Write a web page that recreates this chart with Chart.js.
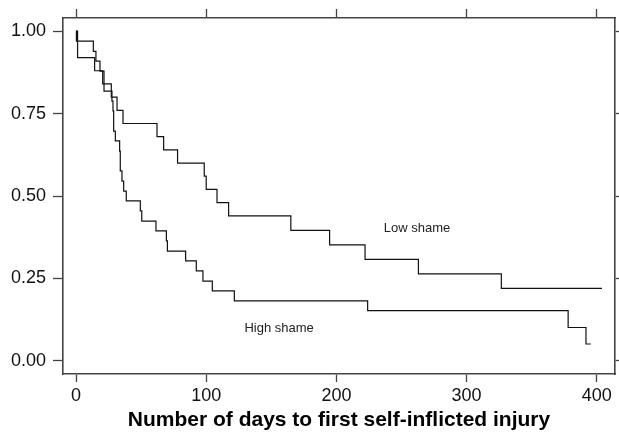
<!DOCTYPE html>
<html>
<head>
<meta charset="utf-8">
<script src="https://cdn.jsdelivr.net/npm/chart.js@4.4.1/dist/chart.umd.min.js"></script>
<style>
  html, body { margin:0; padding:0; background:#fff; }
  #wrap { width:619px; height:437px; }
</style>
</head>
<body>
<div id="wrap"><canvas id="km" width="619" height="437"></canvas></div>
<script>
// Kaplan-Meier steps (day of event, survival after it)
const lowDays  = [0, 1.2, 14.3, 20.5, 27.1, 31.5, 36.1, 62.2, 67.3, 78, 98.5, 100, 108.3, 117.2, 165, 194.8, 222, 263, 326.7, 404];
const lowSurv  = [1, 0.92, 0.88, 0.84, 0.80, 0.76, 0.72, 0.68, 0.64, 0.60, 0.56, 0.52, 0.48, 0.44, 0.396, 0.352, 0.308, 0.264, 0.22, 0.22];
const highDays = [0, 0.3, 13.3, 15.3, 18.4, 21.5, 27.6, 28.4, 28.9, 30.2, 33.5, 34, 35.3, 36.6, 38.6, 49.4, 50.5, 61.4, 69.4, 70.2, 84.2, 92.4, 97.5, 104.7, 121.6, 224, 378, 391.7, 395.5];
const highSurv = [1, 0.970, 0.939, 0.909, 0.879, 0.818, 0.788, 0.758, 0.697, 0.667, 0.636, 0.576, 0.545, 0.515, 0.485, 0.455, 0.424, 0.394, 0.364, 0.333, 0.303, 0.273, 0.242, 0.212, 0.182, 0.152, 0.101, 0.051, 0.051];

const xTicks = [0, 100, 200, 300, 400];
const yTicks = [0, 0.25, 0.5, 0.75, 1];
const groupLabels = [
  { text: "Low shame",  day: 262, surv: 0.402 },
  { text: "High shame", day: 156, surv: 0.098 },
];
const xTitle = "Number of days to first self-inflicted injury";

const ink = "#111";
const frame = "#444";
const FONT = "'Liberation Sans', Arial, sans-serif";

function pts(xs, ys){ return xs.map((x, i) => ({ x: x, y: ys[i] })); }
function setTicks(vals){ return (scale) => { scale.ticks = vals.map(v => ({ value: v })); }; }

const groupText = {
  id: "groupText",
  afterDatasetsDraw(chart){
    const { ctx, scales: { x, y } } = chart;
    ctx.save();
    ctx.font = "13px " + FONT;
    ctx.fillStyle = "#222";
    ctx.textAlign = "center";
    ctx.textBaseline = "middle";
    groupLabels.forEach(g => ctx.fillText(g.text, x.getPixelForValue(g.day), y.getPixelForValue(g.surv)));
    ctx.restore();
  }
};

function line(data){
  return { data: data, stepped: "before", borderColor: ink, borderWidth: 1.2, pointRadius: 0, fill: false, xAxisID: "x", yAxisID: "y" };
}

const mirror = (pos, len) => ({
  type: "linear", position: pos, min: pos === "top" ? -10 : -0.04, max: pos === "top" ? 414 : 1.04,
  afterBuildTicks: setTicks(pos === "top" ? xTicks : yTicks),
  ticks: { display: false },
  grid: { drawOnChartArea: false, tickLength: len, tickColor: frame, tickWidth: 1.3 },
  border: { display: true, color: frame, width: 1.6 },
  afterFit: (s) => { if (pos === "top") s.height = 18; else s.width = 4; }
});

new Chart(document.getElementById("km"), {
  type: "line",
  data: { datasets: [ line(pts(lowDays, lowSurv)), line(pts(highDays, highSurv)) ] },
  plugins: [groupText],
  options: {
    responsive: false, animation: false, parsing: false,
    layout: { padding: 0 },
    plugins: { legend: { display: false }, tooltip: { enabled: false } },
    scales: {
      x: {
        type: "linear", position: "bottom", min: -10, max: 414,
        afterBuildTicks: setTicks(xTicks),
        ticks: { color: "#111", font: { family: FONT, size: 18 }, padding: 3, maxRotation: 0, callback: v => String(v) },
        grid: { drawOnChartArea: false, tickLength: 8, tickColor: frame, tickWidth: 1.3 },
        border: { display: true, color: frame, width: 1.6 },
        title: { display: true, text: xTitle, color: "#000", font: { family: FONT, size: 21, weight: "bold" }, padding: { top: 0, bottom: 4 } },
        afterFit: (s) => { s.height = 63; }
      },
      y: {
        type: "linear", position: "left", min: -0.04, max: 1.04,
        afterBuildTicks: setTicks(yTicks),
        ticks: { color: "#111", font: { family: FONT, size: 18 }, padding: 7, callback: v => Number(v).toFixed(2) },
        grid: { drawOnChartArea: false, tickLength: 10, tickColor: frame, tickWidth: 1.3 },
        border: { display: true, color: frame, width: 1.6 },
        afterFit: (s) => { s.width = 63; }
      },
      x2: mirror("top", 9),
      y2: mirror("right", 8),
    }
  }
});
</script>
</body>
</html>
